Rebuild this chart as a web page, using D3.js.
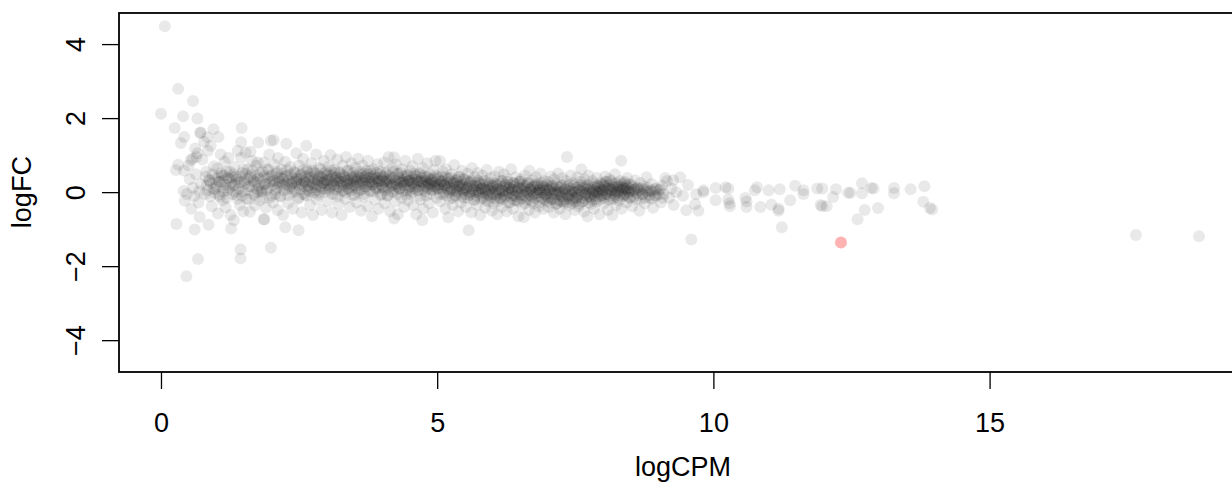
<!DOCTYPE html>
<html>
<head>
<meta charset="utf-8">
<script src="https://cdn.jsdelivr.net/npm/d3@7"></script>
<style>
  body { margin: 0; background: #fff; }
  svg { display: block; font-family: "Liberation Sans", Arial, Helvetica, sans-serif; }
</style>
</head>
<body>
<svg id="chart"></svg>
<script>
// logCPM / logFC pairs
const lowGenes = [
  [0.07,4.48],[0.00,2.12],[0.31,2.79],[0.58,2.46],[0.40,2.05],[0.66,1.99],[0.25,1.73],[0.42,1.49],[0.36,1.33],[0.71,1.60],
  [0.95,1.70],[1.04,1.49],[1.46,1.73],[0.90,1.25],[0.78,1.36],[0.66,1.05],[0.54,0.86],[0.31,0.74],[0.27,0.60],[0.42,0.58],
  [0.41,0.03],[0.60,-0.11],[0.43,-0.23],[0.28,-0.86],[0.61,-1.01],[0.86,-0.88],[0.70,-0.67],[0.67,-1.81],[0.46,-2.27],[1.44,-1.55],
  [1.44,-1.79],[1.99,-1.50],[1.86,-0.73],[1.27,-0.98],[2.25,-0.95],[2.49,-1.03],[0.84,1.48],[0.72,1.61],[1.45,1.35],[1.76,1.34],
  [0.52,0.35],[0.58,0.12],[0.63,0.48],[0.68,-0.28],[0.72,0.22],[0.75,0.88],[0.79,-0.05],[0.82,0.55],[0.85,1.12],[0.88,0.31],
  [0.92,-0.38],[0.96,0.70],[0.98,0.08],[0.55,-0.45],[0.64,0.95],[0.50,0.72],[0.57,0.90],[0.62,1.18],[0.47,-0.05],[0.69,0.02],
  [1.02,0.64],[1.03,-0.58],[1.05,0.28],[1.07,-0.13],[1.08,1.02],[1.10,0.45],[1.12,-0.22],[1.13,0.12],[1.15,0.82],[1.17,-0.41],
  [1.19,0.55],[1.21,0.05],[1.22,0.93],[1.24,0.36],[1.26,-0.62],[1.28,0.41],[1.30,0.18],[1.32,-0.76],[1.33,0.68],[1.35,0.41],
  [1.37,-0.08],[1.39,1.12],[1.41,0.25],[1.43,-0.35],[1.45,0.93],[1.47,0.52],[1.48,0.02],[1.49,-0.52],
  [1.51,0.32],[1.53,1.07],[1.55,-0.18],[1.57,0.62],[1.59,0.15],[1.61,-0.53],[1.62,1.09],[1.63,0.45],[1.65,0.85],[1.67,-0.05],
  [1.69,0.28],[1.70,-0.36],[1.72,0.72],[1.74,0.08],[1.75,0.80],[1.77,0.38],[1.79,-0.22],[1.81,0.01],[1.83,0.04],[1.84,0.55],
  [1.86,0.80],[1.87,-0.74],[1.88,0.22],[1.90,-0.42],[1.92,0.62],[1.94,0.12],[1.96,1.02],[1.97,-0.15],[1.99,0.45],[1.99,1.39],
  [2.01,0.30],[2.03,-0.28],[2.04,1.41],[2.05,0.75],[2.07,0.05],[2.09,0.50],[2.11,-0.48],[2.12,0.92],[2.14,0.22],[2.16,-0.10],
  [2.18,0.62],[2.19,0.38],[2.21,-0.62],[2.23,0.18],[2.25,0.82],[2.27,1.31],[2.28,0.45],[2.30,-0.30],[2.32,0.10],[2.34,0.68],
  [2.36,0.22],[2.37,0.28],[2.39,-0.45],[2.41,0.55],[2.43,0.02],[2.45,1.05],[2.46,0.35],[2.48,-0.18],[2.50,0.72],
  [2.52,0.15],[2.54,0.48],[2.55,-0.55],[2.57,0.90],[2.59,0.28],[2.61,-0.08],[2.63,1.25],[2.64,0.62],[2.66,0.05],[2.68,0.40],
  [2.70,-0.35],[2.72,0.78],[2.73,0.20],[2.75,-0.62],[2.77,0.52],[2.79,0.12],[2.81,1.02],[2.82,-0.20],[2.84,0.35],[2.86,0.65],
  [2.88,-0.02],[2.90,0.42],[2.91,-0.48],[2.93,0.25],[2.95,0.85],[2.97,0.08],[2.99,0.55]
];

const midGenes = [
  [3.01,0.32],[3.02,-0.25],[3.04,0.70],[3.05,0.10],[3.07,1.00],[3.09,0.45],[3.10,-0.55],[3.12,0.22],[3.14,0.60],[3.15,-0.05],
  [3.17,0.38],[3.19,0.88],[3.20,0.15],[3.22,-0.32],[3.24,0.52],[3.25,0.28],[3.27,-0.62],[3.29,0.72],[3.30,0.05],[3.32,0.42],
  [3.34,-0.18],[3.35,0.95],[3.37,0.30],[3.39,0.10],[3.40,0.58],[3.42,-0.40],[3.44,0.22],[3.45,0.78],[3.47,-0.08],[3.49,0.40],
  [3.51,0.18],[3.52,0.65],[3.54,-0.28],[3.55,0.35],[3.57,0.90],[3.59,0.05],[3.60,0.48],[3.62,-0.50],[3.64,0.25],[3.65,0.72],
  [3.67,-0.12],[3.69,0.40],[3.70,0.15],[3.72,0.58],[3.74,-0.38],[3.75,0.85],[3.77,0.28],[3.79,0.02],[3.80,0.50],[3.82,-0.65],
  [3.84,0.20],[3.85,0.62],[3.87,-0.20],[3.89,0.38],[3.90,0.10],[3.92,0.75],[3.94,-0.45],[3.95,0.30],[3.97,0.55],[3.99,-0.05],
  [4.01,0.42],[4.02,0.12],[4.04,0.80],[4.05,-0.30],[4.07,0.28],[4.09,0.55],[4.10,-0.08],[4.12,0.95],[4.14,0.35],[4.15,-0.52],
  [4.17,0.18],[4.19,0.65],[4.20,0.02],[4.22,0.94],[4.22,-0.71],[4.24,-0.25],[4.25,0.75],[4.27,0.22],[4.29,-0.60],[4.30,0.50],
  [4.32,0.10],[4.34,0.32],[4.35,-0.15],[4.37,0.62],[4.39,0.25],[4.40,-0.40],[4.42,0.85],[4.44,0.05],[4.45,0.45],[4.47,-0.22],
  [4.49,0.30],[4.51,0.58],[4.52,-0.05],[4.54,0.25],[4.55,0.70],[4.57,-0.35],[4.59,0.15],[4.60,0.45],[4.62,-0.60],[4.64,0.32],
  [4.65,0.90],[4.67,0.05],[4.69,0.52],[4.70,-0.20],[4.72,0.28],[4.73,-0.76],[4.74,0.65],[4.75,-0.45],[4.77,0.18],[4.79,0.40],
  [4.80,-0.10],[4.82,0.78],[4.84,0.22],[4.85,-0.30],[4.87,0.48],[4.89,0.08],[4.90,0.35],[4.92,-0.55],[4.94,0.60],[4.95,0.15],
  [4.97,0.85],[4.99,-0.15],
  [5.01,0.40],[5.03,0.10],[5.05,0.84],[5.06,-0.25],[5.08,0.30],[5.10,0.55],[5.11,-0.05],[5.13,0.20],[5.15,-0.45],[5.16,0.62],
  [5.18,0.12],[5.20,-0.68],[5.21,0.38],[5.23,-0.18],[5.25,0.05],[5.26,0.48],[5.28,-0.35],[5.30,0.25],[5.31,0.73],[5.33,-0.10],
  [5.35,0.32],[5.36,0.02],[5.38,-0.52],[5.40,0.42],[5.41,0.15],[5.43,-0.28],[5.45,0.58],[5.46,0.08],[5.48,-0.15],
  [5.50,0.35],[5.52,-0.40],[5.53,0.12],[5.55,0.50],[5.57,-1.03],[5.58,-0.08],[5.60,0.28],[5.62,-0.55],[5.63,0.65],[5.65,0.05],
  [5.67,-0.22],[5.68,0.40],[5.70,0.18],[5.72,-0.35],[5.73,0.52],[5.75,-0.02],[5.77,0.25],[5.78,-0.62],[5.80,0.10],[5.82,0.45],
  [5.83,-0.15],[5.85,0.30],[5.87,-0.42],[5.88,0.05],[5.90,0.60],[5.92,-0.25],[5.93,0.20],[5.95,-0.08],[5.97,0.38],[5.99,-0.50],
  [6.01,0.15],[6.02,-0.30],[6.04,0.42],[6.06,-0.05],[6.07,0.22],[6.09,-0.60],[6.11,0.08],[6.12,0.55],[6.14,-0.18],[6.16,0.30],
  [6.17,-0.40],[6.19,0.02],[6.21,0.48],[6.22,-0.12],[6.24,0.20],[6.26,-0.52],[6.27,0.35],[6.29,-0.02],[6.31,0.12],[6.32,-0.28],
  [6.34,0.62],[6.36,0.05],[6.37,-0.45],[6.39,0.25],[6.41,-0.10],[6.42,0.40],[6.44,-0.22],[6.46,0.10],[6.47,-0.65],[6.49,0.28],
  [6.51,-0.08],[6.52,0.35],[6.54,-0.35],[6.56,0.12],[6.57,-0.68],[6.59,0.45],[6.61,0.00],[6.62,-0.20],[6.64,0.25],[6.66,-0.48],
  [6.67,0.58],[6.69,0.08],[6.71,-0.12],[6.72,0.32],[6.74,-0.30],[6.76,0.15],[6.77,-0.55],[6.79,0.40],[6.81,-0.02],[6.82,0.22],
  [6.84,-0.38],[6.86,0.05],[6.87,0.50],[6.89,-0.15],[6.91,0.18],[6.92,-0.45],[6.94,0.30],[6.96,-0.05],[6.97,0.12],[6.99,-0.25]
];

const highGenes = [
  [7.01,0.28],[7.02,-0.40],[7.04,0.05],[7.06,0.42],[7.07,-0.18],[7.09,0.15],[7.11,-0.55],[7.12,0.35],[7.14,-0.05],[7.16,0.22],
  [7.17,-0.30],[7.19,0.50],[7.21,0.00],[7.22,-0.45],[7.24,0.18],[7.26,-0.12],[7.27,0.38],[7.29,-0.25],[7.31,0.08],[7.32,-0.60],
  [7.34,0.30],[7.35,0.95],[7.37,-0.08],[7.39,0.20],[7.40,-0.35],[7.42,0.45],[7.44,0.02],[7.45,-0.20],[7.47,0.25],[7.49,-0.48],
  [7.51,0.12],[7.52,-0.15],[7.54,0.40],[7.56,-0.38],[7.57,0.05],[7.59,0.28],[7.61,0.62],[7.62,-0.25],[7.64,0.15],[7.66,-0.52],
  [7.67,0.35],[7.69,-0.05],[7.71,0.20],[7.72,-0.66],[7.74,0.45],[7.76,-0.12],[7.77,0.08],[7.79,-0.32],[7.81,0.30],[7.82,0.00],
  [7.84,-0.45],[7.86,0.22],[7.87,-0.18],[7.89,0.38],[7.91,-0.02],[7.92,0.15],[7.94,-0.60],[7.96,0.25],[7.97,-0.10],[7.99,0.05],
  [8.01,0.18],[8.02,-0.30],[8.04,0.42],[8.06,-0.05],[8.07,0.28],[8.09,-0.48],[8.11,0.10],[8.12,0.35],[8.14,-0.20],[8.16,0.05],
  [8.17,-0.62],[8.19,0.22],[8.21,-0.10],[8.22,0.48],[8.24,-0.35],[8.26,0.15],[8.27,0.00],[8.29,-0.22],[8.31,0.30],[8.33,0.85],
  [8.34,-0.45],[8.36,0.12],[8.38,-0.08],[8.39,0.25],[8.41,0.10],[8.43,-0.28],[8.44,0.38],[8.46,0.02],[8.48,-0.15],
  [8.51,0.20],[8.53,-0.38],[8.56,0.05],[8.58,0.32],[8.61,-0.20],[8.63,0.10],[8.66,-0.50],[8.68,0.25],[8.71,-0.05],[8.74,0.15],
  [8.76,-0.30],[8.79,0.40],[8.82,0.02],[8.85,-0.15],[8.88,0.22],[8.91,-0.42],[8.94,0.08],[8.97,-0.10],
  [9.02,0.05],[9.05,-0.28],[9.07,0.18],[9.10,-0.05],[9.13,0.38],[9.16,0.30],[9.20,-0.15],[9.24,0.10],[9.27,0.32],[9.28,-0.35],
  [9.33,0.00],[9.40,0.40],[9.45,-0.10]
];

// the dark core of the smear, where most genes pile up
const coreGenes = [
  [0.81,0.42],[0.83,0.18],[0.85,0.05],[0.87,0.33],[0.89,-0.12],[0.91,0.25],[0.93,0.48],[0.95,0.10],[0.97,-0.02],[0.99,0.36],
  [1.01,0.15],[1.03,0.40],[1.05,-0.08],[1.07,0.28],[1.09,0.52],[1.11,0.30],[1.13,0.02],[1.15,0.45],[1.17,0.20],[1.19,-0.15],
  [1.21,0.38],[1.23,0.12],[1.25,0.55],[1.27,0.25],[1.29,-0.05],[1.31,0.48],[1.33,0.20],[1.35,0.02],[1.37,0.35],[1.39,-0.18],
  [1.41,0.10],[1.43,0.42],[1.45,0.28],[1.47,-0.10],[1.49,0.62],[1.51,0.22],[1.53,0.50],[1.55,0.05],[1.57,0.35],[1.59,-0.20],
  [1.61,0.40],[1.63,0.15],[1.65,0.58],[1.67,0.30],[1.69,-0.08],[1.71,0.25],[1.73,0.45],[1.75,0.00],[1.77,0.18],[1.79,0.52],
  [1.81,0.35],[1.83,0.10],[1.85,-0.15],[1.87,0.42],[1.89,0.22],[1.91,0.05],[1.93,0.38],[1.95,0.60],[1.97,0.28],[1.99,-0.10],
  [2.01,0.45],[2.03,0.18],[2.05,0.32],[2.07,-0.05],[2.09,0.25],[2.10,0.55],[2.11,0.12],[2.13,0.40],[2.15,0.28],[2.17,-0.12],
  [2.19,0.50],[2.20,0.20],[2.21,0.35],[2.23,0.05],[2.25,0.42],[2.27,0.22],[2.29,0.60],[2.30,-0.08],[2.31,0.30],[2.33,0.15],
  [2.35,0.48],[2.37,-0.02],[2.39,0.38],[2.40,0.25],[2.41,0.10],[2.43,0.52],[2.45,0.28],[2.47,0.40],[2.49,-0.15],[2.50,0.20],
  [2.51,0.35],[2.52,0.08],[2.54,0.45],[2.55,0.22],[2.57,0.60],[2.58,-0.05],[2.59,0.30],[2.60,0.15],
  [2.61,0.42],[2.62,0.25],[2.64,-0.10],[2.65,0.55],[2.67,0.18],[2.68,0.32],[2.69,0.02],[2.70,0.48],
  [2.71,0.28],[2.72,0.12],[2.74,0.40],[2.75,0.58],[2.77,-0.02],[2.78,0.22],[2.79,0.35],[2.80,0.05],
  [2.81,0.50],[2.82,0.20],[2.84,0.30],[2.85,-0.08],[2.87,0.42],[2.88,0.15],[2.89,0.62],[2.90,0.28],
  [2.91,0.10],[2.92,0.38],[2.94,0.25],[2.95,0.52],[2.97,0.00],[2.98,0.32],[2.99,0.18],[3.00,0.45],
  [3.01,0.22],[3.02,0.48],[3.04,0.05],[3.05,0.35],[3.07,0.15],[3.08,0.60],[3.09,0.28],[3.10,-0.05],
  [3.11,0.40],[3.12,0.18],[3.14,0.52],[3.15,0.30],[3.17,0.08],[3.18,0.42],[3.19,0.25],[3.20,-0.12],
  [3.21,0.32],[3.22,0.55],[3.24,0.12],[3.25,0.38],[3.27,0.20],[3.28,0.02],[3.29,0.45],[3.30,0.28],
  [3.31,0.15],[3.32,0.40],[3.34,-0.02],[3.35,0.30],[3.37,0.58],[3.38,0.22],[3.39,0.35],[3.40,0.10],
  [3.41,0.48],[3.42,0.25],[3.44,0.05],[3.45,0.38],[3.47,0.18],[3.48,0.52],[3.49,0.30],[3.50,-0.08],
  [3.51,0.35],[3.52,0.12],[3.54,0.45],[3.55,0.28],[3.57,0.00],[3.58,0.40],[3.59,0.22],[3.60,0.55],
  [3.61,0.18],[3.62,0.38],[3.64,0.08],[3.65,0.30],[3.67,0.50],[3.68,-0.05],[3.69,0.25],[3.70,0.42],
  [3.71,0.32],[3.72,0.15],[3.74,0.48],[3.75,0.22],[3.77,0.38],[3.78,0.05],[3.79,0.58],[3.80,0.28],
  [3.81,0.40],[3.82,0.20],[3.84,0.35],[3.85,0.02],[3.87,0.45],[3.88,0.30],[3.89,0.12],[3.90,0.52],
  [3.91,0.25],[3.92,0.38],[3.94,0.10],[3.95,0.30],[3.97,0.48],[3.98,-0.08],[3.99,0.20],[4.00,0.35],
  [4.01,0.15],[4.02,0.42],[4.04,0.28],[4.05,0.05],[4.07,0.50],[4.08,0.22],[4.09,0.35],[4.10,-0.10],
  [4.11,0.30],[4.12,0.12],[4.14,0.45],[4.15,0.25],[4.17,0.00],[4.18,0.38],[4.19,0.18],[4.20,0.55],
  [4.21,0.22],[4.22,0.40],[4.24,0.08],[4.25,0.32],[4.27,0.15],[4.28,0.48],[4.29,-0.05],[4.30,0.28],
  [4.31,0.38],[4.32,0.10],[4.34,0.25],[4.35,0.52],[4.37,0.02],[4.38,0.30],[4.39,0.18],[4.40,0.42],
  [4.41,0.20],[4.42,0.35],[4.44,-0.08],[4.45,0.28],[4.47,0.45],[4.48,0.12],[4.49,0.32],[4.50,0.05],
  [4.51,0.30],[4.52,0.15],[4.54,0.40],[4.55,0.00],[4.57,0.25],[4.58,0.50],[4.59,0.10],[4.60,0.35],
  [4.61,0.22],[4.62,0.42],[4.64,0.05],[4.65,0.28],[4.67,0.15],[4.68,0.48],[4.69,-0.10],[4.70,0.30],
  [4.71,0.18],[4.72,0.38],[4.74,0.08],[4.75,0.25],[4.77,0.45],[4.78,0.02],[4.79,0.32],[4.80,0.15],
  [4.81,0.28],[4.82,0.40],[4.84,0.10],[4.85,0.22],[4.87,0.35],[4.88,-0.05],[4.89,0.18],[4.90,0.30],
  [4.91,0.25],[4.92,0.05],[4.94,0.38],[4.95,0.15],[4.97,0.28],[4.98,0.45],[4.99,0.08],[5.00,0.20],
  [5.01,0.12],[5.02,0.35],[5.04,0.20],[5.05,-0.05],[5.07,0.28],[5.08,0.42],[5.09,0.10],[5.10,0.22],
  [5.11,0.30],[5.12,0.02],[5.14,0.18],[5.15,0.40],[5.17,-0.10],[5.18,0.25],[5.19,0.08],[5.20,0.35],
  [5.21,0.15],[5.22,-0.02],[5.24,0.28],[5.25,0.10],[5.27,0.38],[5.28,-0.15],[5.29,0.20],[5.30,0.05],
  [5.31,0.25],[5.32,0.12],[5.34,-0.08],[5.35,0.32],[5.37,0.15],[5.38,0.00],[5.39,0.40],[5.40,0.18],
  [5.41,0.08],[5.42,0.28],[5.44,-0.12],[5.45,0.20],[5.47,0.02],[5.48,0.35],[5.49,0.12],[5.50,-0.05],
  [5.51,0.22],[5.52,0.05],[5.54,0.30],[5.55,-0.15],[5.57,0.15],[5.58,0.00],[5.59,0.25],[5.60,-0.08],
  [5.61,0.10],[5.62,0.32],[5.64,-0.02],[5.65,0.18],[5.67,-0.20],[5.68,0.08],[5.69,0.25],[5.70,0.02],
  [5.71,-0.10],[5.72,0.15],[5.74,0.30],[5.75,0.05],[5.77,-0.05],[5.78,0.20],[5.79,-0.18],[5.80,0.10],
  [5.81,0.00],[5.82,0.22],[5.84,-0.12],[5.85,0.12],[5.87,0.30],[5.88,-0.02],[5.89,0.08],[5.90,-0.22],
  [5.91,0.15],[5.92,-0.08],[5.94,0.05],[5.95,0.25],[5.97,-0.15],[5.98,0.10],[5.99,0.00],[6.00,0.18],
  [6.01,-0.05],[6.02,0.12],[6.04,-0.18],[6.05,0.25],[6.07,0.02],[6.08,-0.10],[6.09,0.18],[6.10,-0.25],
  [6.11,0.08],[6.12,-0.02],[6.14,0.22],[6.15,-0.15],[6.17,0.05],[6.18,0.30],[6.19,-0.08],[6.20,0.15],
  [6.21,-0.20],[6.22,0.02],[6.24,0.18],[6.25,-0.10],[6.27,0.28],[6.28,0.05],[6.29,-0.28],[6.30,0.12],
  [6.31,-0.02],[6.32,0.20],[6.34,-0.15],[6.35,0.08],[6.37,0.25],[6.38,-0.08],[6.39,0.15],[6.40,-0.22],
  [6.41,0.05],[6.42,-0.12],[6.44,0.22],[6.45,0.00],[6.47,-0.25],[6.48,0.12],[6.49,-0.05],[6.50,0.28],
  [6.51,0.10],[6.52,-0.18],[6.54,0.02],[6.55,0.20],[6.57,-0.08],[6.58,0.15],[6.59,-0.30],[6.60,0.05],
  [6.61,-0.12],[6.62,0.18],[6.64,-0.02],[6.65,0.25],[6.67,-0.20],[6.68,0.08],[6.69,-0.08],[6.70,0.12],
  [6.71,0.02],[6.72,-0.25],[6.74,0.15],[6.75,-0.05],[6.77,0.22],[6.78,-0.15],[6.79,0.05],[6.80,-0.02],
  [6.81,0.18],[6.82,-0.10],[6.84,0.08],[6.85,-0.28],[6.87,0.12],[6.88,-0.02],[6.89,0.25],[6.90,-0.15],
  [6.91,0.00],[6.92,0.15],[6.94,-0.20],[6.95,0.05],[6.97,-0.08],[6.98,0.20],[6.99,-0.12],[7.00,0.08],
  [7.01,-0.15],[7.02,0.05],[7.04,-0.28],[7.05,0.12],[7.07,-0.05],[7.08,0.18],[7.09,-0.20],[7.10,-0.02],
  [7.11,0.10],[7.12,-0.18],[7.14,0.02],[7.15,-0.32],[7.17,0.15],[7.18,-0.08],[7.19,0.05],[7.20,-0.22],
  [7.21,-0.05],[7.22,0.12],[7.24,-0.25],[7.25,0.00],[7.27,-0.12],[7.28,0.20],[7.29,-0.30],[7.30,0.02],
  [7.31,-0.18],[7.32,0.08],[7.34,-0.05],[7.35,-0.28],[7.37,0.15],[7.38,-0.12],[7.39,0.02],[7.40,-0.20],
  [7.41,0.10],[7.42,-0.08],[7.44,-0.30],[7.45,0.05],[7.47,-0.15],[7.48,0.18],[7.49,-0.02],[7.50,-0.25],
  [7.51,0.00],[7.52,-0.18],[7.54,0.12],[7.55,-0.10],[7.57,-0.32],[7.58,0.05],[7.59,-0.05],[7.60,0.20],
  [7.61,-0.15],[7.62,0.02],[7.64,-0.25],[7.65,0.10],[7.67,-0.08],[7.68,0.15],[7.69,-0.20],[7.70,-0.02],
  [7.71,0.08],[7.72,-0.12],[7.74,0.18],[7.75,-0.28],[7.77,0.00],[7.78,-0.15],[7.79,0.12],[7.80,-0.05],
  [7.81,-0.22],[7.82,0.05],[7.84,0.15],[7.85,-0.10],[7.87,0.02],[7.88,-0.25],[7.89,0.10],[7.90,-0.02],
  [7.91,0.18],[7.92,-0.12],[7.94,0.05],[7.95,-0.20],[7.97,0.12],[7.98,0.00],[7.99,-0.08],[8.00,0.22],
  [8.01,0.05],[8.02,-0.15],[8.04,0.15],[8.05,0.28],[8.07,-0.05],[8.08,0.10],[8.09,-0.20],[8.10,0.02],
  [8.11,0.20],[8.12,-0.10],[8.14,0.08],[8.15,0.30],[8.17,-0.02],[8.18,0.15],[8.19,-0.18],[8.20,0.05],
  [8.21,0.12],[8.22,-0.05],[8.24,0.25],[8.25,0.02],[8.27,-0.15],[8.28,0.18],[8.29,0.08],[8.30,-0.08],
  [8.31,0.15],[8.32,-0.02],[8.34,0.22],[8.35,0.05],[8.37,-0.12],[8.38,0.10],[8.39,0.28],[8.40,-0.05],
  [8.41,0.05],[8.42,0.18],[8.44,-0.10],[8.45,0.12],[8.47,0.00],[8.48,0.22],[8.49,-0.15],[8.50,0.08],
  [8.52,0.02],[8.54,0.15],[8.56,-0.12],[8.58,0.08],[8.60,-0.02],[8.62,0.12],[8.64,-0.08],[8.66,0.05],
  [8.68,-0.20],[8.70,0.10],[8.72,-0.05],[8.75,0.08],[8.77,-0.15],[8.79,0.02],[8.81,0.12],[8.84,-0.08],
  [8.87,0.05],[8.89,-0.18],[8.91,0.02],[8.94,-0.10],[8.97,0.10],[9.01,-0.05],[9.04,0.08],[9.08,-0.15]
];

const tailGenes = [
  [9.51,-0.49],[9.54,0.19],[9.60,-1.28],[9.67,-0.33],[9.69,-0.06],[9.73,-0.50],[9.82,0.00],[9.82,0.05],[10.04,0.11],[10.04,-0.22],
  [10.22,0.13],[10.27,0.10],[10.27,-0.20],[10.29,-0.30],[10.30,-0.38],[10.58,-0.16],[10.60,-0.25],[10.60,-0.40],[10.79,0.13],[10.75,0.05],
  [10.85,-0.40],[11.00,0.05],[11.05,-0.34],[11.18,-0.45],[11.18,-0.50],[11.20,0.08],[11.24,-0.95],[11.39,-0.22],[11.48,0.17],[11.63,0.05],
  [11.63,-0.05],[11.94,-0.35],[11.97,-0.38],[11.97,0.10],[11.88,0.10],[12.05,-0.38],[12.17,-0.13],[12.22,0.08],[12.44,-0.02],[12.48,-0.02],
  [12.61,-0.73],[12.69,0.24],[12.69,-0.03],[12.74,-0.48],[12.86,0.11],[12.90,0.10],[12.98,-0.43],[13.27,0.11],[13.27,-0.03],[13.57,0.08],
  [13.80,-0.26],[13.82,0.16],[13.92,-0.43],[13.96,-0.47],[17.65,-1.16],[18.79,-1.19]
];

// the one gene flagged in red
const deGenes = [[12.31,-1.36]];

const xTicks = [0, 5, 10, 15];
const yTicks = [-4, -2, 0, 2, 4];

const width = 1232, height = 487;
const box = { left: 119, right: 1247, top: 13, bottom: 372 };
const fontSize = 27;

const svg = d3.select("#chart")
  .attr("width", width)
  .attr("height", height);

const xScale = d3.scaleLinear()
  .domain([-0.76, 19.66])
  .range([box.left, box.right]);

const yScale = d3.scaleLinear()
  .domain([-4.86, 4.84])
  .range([box.bottom, box.top]);

const allGenes = lowGenes.concat(midGenes, coreGenes, highGenes, tailGenes);

svg.append("g")
  .selectAll("circle")
  .data(allGenes)
  .join("circle")
    .attr("cx", d => xScale(d[0]))
    .attr("cy", d => yScale(d[1]))
    .attr("r", 6)
    .attr("fill", "#000")
    .attr("fill-opacity", 0.085);

svg.append("g")
  .selectAll("circle")
  .data(deGenes)
  .join("circle")
    .attr("cx", d => xScale(d[0]))
    .attr("cy", d => yScale(d[1]))
    .attr("r", 6)
    .attr("fill", "#ff0000")
    .attr("fill-opacity", 0.3);

// plot frame
svg.append("rect")
  .attr("x", box.left)
  .attr("y", box.top)
  .attr("width", box.right - box.left)
  .attr("height", box.bottom - box.top)
  .attr("fill", "none")
  .attr("stroke", "#000")
  .attr("stroke-width", 1.8);

// x axis
const xAxis = d3.axisBottom(xScale)
  .tickValues(xTicks)
  .tickSize(17)
  .tickFormat(d3.format("d"));

const xAxisG = svg.append("g")
  .attr("transform", `translate(0,${box.bottom})`)
  .call(xAxis);
xAxisG.select(".domain").remove();
xAxisG.selectAll("line").attr("stroke-width", 1.3);
xAxisG.selectAll("text")
  .attr("y", 422 + 0.358 * fontSize - box.bottom)
  .attr("dy", null)
  .attr("font-size", fontSize)
  .attr("fill", "#000")
  .style("font-family", "Liberation Sans, Arial, sans-serif");

// y axis, labels parallel to the axis
const yAxis = d3.axisLeft(yScale)
  .tickValues(yTicks)
  .tickSize(17)
  .tickFormat(d => d < 0 ? "\u2212" + Math.abs(d) : d);

const yAxisG = svg.append("g")
  .attr("transform", `translate(${box.left},0)`)
  .call(yAxis);
yAxisG.select(".domain").remove();
yAxisG.selectAll("line").attr("stroke-width", 1.3);
yAxisG.selectAll("text")
  .attr("x", null)
  .attr("dy", null)
  .attr("transform", `translate(${85 - box.left},0) rotate(-90)`)
  .attr("text-anchor", "middle")
  .attr("font-size", fontSize)
  .attr("fill", "#000")
  .style("font-family", "Liberation Sans, Arial, sans-serif");

svg.append("text")
  .attr("x", (box.left + box.right) / 2)
  .attr("y", 476)
  .attr("text-anchor", "middle")
  .style("font-size", fontSize + "px")
  .text("logCPM");

svg.append("text")
  .attr("transform", `translate(31,${yScale(0)}) rotate(-90)`)
  .attr("text-anchor", "middle")
  .style("font-size", fontSize + "px")
  .text("logFC");
</script>
</body>
</html>
